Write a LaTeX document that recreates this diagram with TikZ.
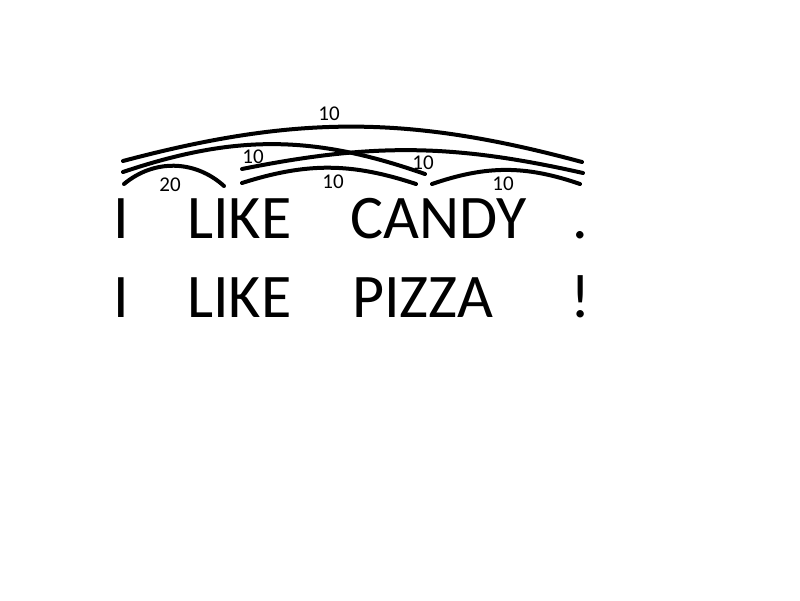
\documentclass[tikz,border=0pt]{standalone}
\usepackage{fontspec}
\setmainfont{Carlito}
\usetikzlibrary{positioning}
\tikzset{
  word/.style={anchor=base west,inner sep=0pt,text height=0.65em,text depth=0pt,
    font=\fontsize{62}{62}\selectfont},
  weight/.style={inner sep=0pt,font=\fontsize{21}{21}\selectfont},
  link/.style={line width=4pt,line cap=round}
}
\newcommand{\wordlink}[3]{\draw[link] (#1) to[bend left=#3] (#2);}

\begin{document}
\begin{tikzpicture}[x=1pt,y=-1pt]
\useasboundingbox (0,0) rectangle (800,600);
% first sentence
\node[word] (i1) at (113,238) {I};
\node[word] (like1) at (187,238) {LIKE};
\node[word] (candy) at (350,238) {CANDY};
\node[word] (dot) at (572,238) {.};
% second sentence
\node[word] (i2) at (113,317) {I};
\node[word] (like2) at (187,317) {LIKE};
\node[word] (pizza) at (352,317) {PIZZA};
\node[word] (bang) at (570,317) {!};
% link ends above the words
\coordinate (iA) at (124,184);\coordinate (iB) at (123,172);\coordinate (iC) at (123,161);
\coordinate (likeA) at (224,186);\coordinate (likeB) at (242,183);\coordinate (likeC) at (242,169);
\coordinate (candyA) at (416,184);\coordinate (candyB) at (425,174);\coordinate (candyC) at (432,184);
\coordinate (dotA) at (580,184);\coordinate (dotB) at (583,173);\coordinate (dotC) at (582,162);
% links
\wordlink{iA}{likeA}{41}
\wordlink{likeB}{candyA}{18}
\wordlink{candyC}{dotA}{19}
\wordlink{iB}{candyB}{19}
\wordlink{likeC}{dotB}{12}
\wordlink{iC}{dotC}{15}
% weights
\node[weight] (w1) at (170,185) {20};
\node[weight] (w2) at (333,182) {10};
\node[weight] (w3) at (503,184) {10};
\node[weight] (w4) at (253,157) {10};
\node[weight] (w5) at (423,163) {10};
\node[weight] (w6) at (329,114) {10};
\end{tikzpicture}
\end{document}
